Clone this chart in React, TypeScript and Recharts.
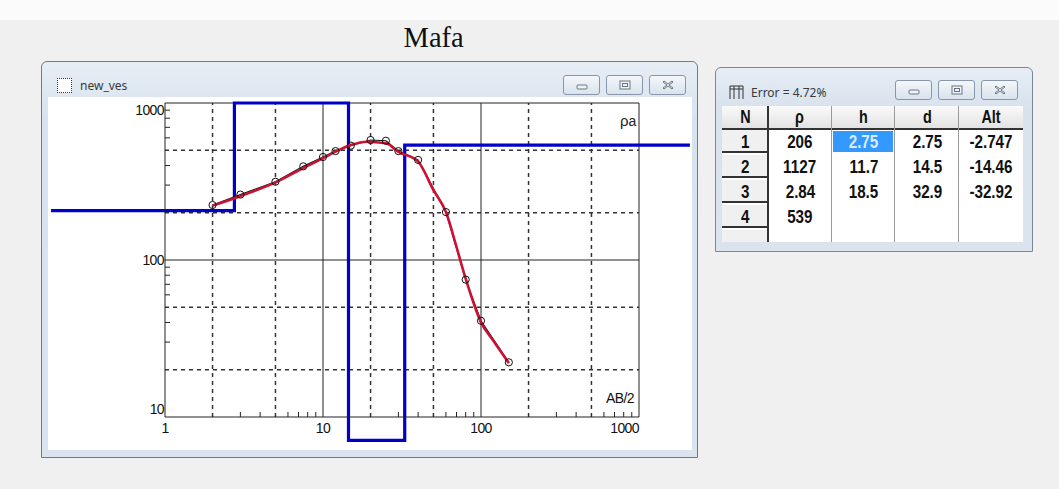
import React from "react";
import { ComposedChart, Line, Scatter, XAxis, YAxis, ReferenceLine } from "recharts";

// field curve (AB/2, apparent resistivity)
const abHalf = [2, 3, 5, 7.5, 10, 12, 15, 20, 25, 30, 40, 60, 80, 100, 150];
const rhoObserved = [224, 261, 315, 395, 453, 494, 535, 581, 575, 494, 434, 202, 75, 41, 22.3];

// fitted curve
const fitAbHalf = [2, 3, 5, 7.5, 10, 12, 15, 19, 25, 30, 40, 50, 60, 70, 80, 100, 120, 150];
const fitRho = [222, 255, 312, 385, 445, 490, 540, 567, 554, 489, 423, 279, 202, 121, 76, 40, 30.5, 22];

// layered model
const layerN = ["1", "2", "3", "4"];
const layerRho = [206, 1127, 2.84, 539];
const layerRhoText = ["206", "1127", "2.84", "539"];
const layerH = ["2.75", "11.7", "18.5"];
const layerD = [2.75, 14.5, 32.9];
const layerDText = ["2.75", "14.5", "32.9"];
const layerAlt = ["-2.747", "-14.46", "-32.92"];

const xTicks = [1, 2, 3, 4, 5, 6, 7, 8, 9, 10, 20, 30, 40, 50, 60, 70, 80, 90, 100, 200, 300, 400, 500, 600, 700, 800, 900, 1000];
const yTicks = [10, 20, 30, 40, 50, 60, 70, 80, 90, 100, 200, 300, 400, 500, 600, 700, 800, 900, 1000];
const majors = [1, 10, 100, 1000];
const dashedX = [2, 5, 20, 50, 200, 500];
const dashedY = [20, 50, 200, 500];

// model is drawn clamped to the window's client area
const VIEW_X = [0.19, 2100];
const VIEW_Y = [7.1, 1000];
const clampY = (v: number) => Math.min(Math.max(v, VIEW_Y[0]), VIEW_Y[1]);

const modelPts: { x: number; y: number }[] = [{ x: VIEW_X[0], y: clampY(layerRho[0]) }];
layerD.forEach((d, i) => {
  modelPts.push({ x: d, y: clampY(layerRho[i]) });
  modelPts.push({ x: d, y: clampY(layerRho[i + 1]) });
});
modelPts.push({ x: VIEW_X[1], y: clampY(layerRho[layerRho.length - 1]) });

const obsPts = abHalf.map((x, i) => ({ x, y: rhoObserved[i] }));
const fitPts = fitAbHalf.map((x, i) => ({ x, y: fitRho[i] }));

const PLOT_LEFT = 117;
const PLOT_BOTTOM = 319;
const tickFont = { fontFamily: "'Liberation Sans', Arial, sans-serif", fontSize: 14, letterSpacing: -0.6, fill: "#111" };

const XTick = (props: any) => {
  const { x, payload } = props;
  const v = payload.value;
  if (majors.includes(v)) {
    return (
      <text x={x} y={PLOT_BOTTOM + 16} textAnchor={v === 1000 ? "end" : "middle"} {...tickFont}>
        {v}
      </text>
    );
  }
  if (dashedX.includes(v)) return <g />;
  return <line x1={x} x2={x} y1={PLOT_BOTTOM} y2={PLOT_BOTTOM - 5} stroke="#222" />;
};

const YTick = (props: any) => {
  const { y, payload } = props;
  const v = payload.value;
  if (majors.includes(v)) {
    const dy = v === 1000 ? 12 : v === 10 ? -3 : 5;
    return (
      <text x={PLOT_LEFT - 1} y={y + dy} textAnchor="end" {...tickFont}>
        {v}
      </text>
    );
  }
  if (dashedY.includes(v)) return <g />;
  return <line x1={PLOT_LEFT} x2={PLOT_LEFT + 5} y1={y} y2={y} stroke="#222" />;
};

const Dot = (props: any) => <circle cx={props.cx} cy={props.cy} r={3.6} fill="none" stroke="#111" strokeWidth={1} />;

const WinButtons = ({ left, top }: { left: number; top: number }) => {
  const btn = (l: number, icon: React.ReactNode) => (
    <div
      style={{
        position: "absolute", left: l, top, width: 37, height: 20, boxSizing: "border-box",
        border: "1px solid #8796aa", borderRadius: 3,
        background: "linear-gradient(#f4f7fa, #d9e2ec)", display: "flex", alignItems: "center", justifyContent: "center",
      }}
    >
      <svg width={14} height={12}>{icon}</svg>
    </div>
  );
  return (
    <>
      {btn(left, <rect x={2} y={6} width={10} height={4} rx={1} fill="#eef2f6" stroke="#6b7684" />)}
      {btn(left + 43, <g><rect x={2} y={2} width={10} height={8} fill="#eef2f6" stroke="#6b7684" /><rect x={4.5} y={4.5} width={5} height={3} fill="none" stroke="#6b7684" /></g>)}
      {btn(left + 86, <path d="M3 2 L7 5 L11 2 L12 3 L8 6 L12 9 L11 10 L7 7 L3 10 L2 9 L6 6 L2 3 Z" fill="#eef2f6" stroke="#6b7684" />)}
    </>
  );
};

const uiFont = "'Noto Sans', 'Open Sans', sans-serif";
const tableFont = "'Liberation Sans Narrow', 'Liberation Sans', Arial, sans-serif";

const colW = [46, 64, 63, 64, 64];
const colX = colW.map((_, i) => colW.slice(0, i).reduce((a, b) => a + b, 0));

const Narrow = ({ children }: { children: React.ReactNode }) => (
  <span style={{ display: "inline-block", transform: "scaleX(0.8)", transformOrigin: "center" }}>{children}</span>
);

const Table = () => {
  const headers = ["N", "ρ", "h", "d", "Alt"];
  const cols = [layerN, layerRhoText, layerH, layerDText, layerAlt];
  const cell = (txt: string, col: number, row: number) => {
    const selected = col === 2 && row === 0;
    return (
      <div
        key={`${col}-${row}`}
        style={{
          position: "absolute", left: colX[col] + (selected ? 1 : 0), top: 23 + row * 25 + (selected ? 2 : 0),
          width: colW[col] - (selected ? 3 : 0), height: selected ? 21 : 25,
          lineHeight: selected ? "21px" : "25px", textAlign: "center",
          background: selected ? "#3399ff" : "transparent", color: selected ? "#d8ecff" : "#111",
          fontFamily: tableFont, fontWeight: 700, fontSize: 19,
        }}
      >
        <Narrow>{txt}</Narrow>
      </div>
    );
  };
  return (
    <div style={{ position: "absolute", left: 722, top: 106, width: 301, height: 136, background: "#fff", overflow: "hidden" }}>
      {/* header */}
      <div style={{ position: "absolute", left: 0, top: 0, width: 301, height: 22, background: "linear-gradient(#fafafa, #e3e3e3)", borderBottom: "2px solid #333" }} />
      {headers.map((h, i) => (
        <div
          key={h}
          style={{
            position: "absolute", left: colX[i], top: 0, width: colW[i], height: 22, lineHeight: "22px", textAlign: "center",
            fontFamily: tableFont, fontWeight: 700, fontSize: 18, color: "#111",
          }}
        >
          <Narrow>{h}</Narrow>
        </div>
      ))}
      {/* N column buttons */}
      {[0, 1, 2, 3, 4].map((r) => (
        <div
          key={r}
          style={{
            position: "absolute", left: 0, top: 24 + r * 25, width: 45, height: 23,
            background: "#f0f0f0", borderBottom: "2px solid #333", boxSizing: "border-box",
          }}
        />
      ))}
      {/* column separators */}
      {colX.slice(1).map((x, i) => (
        <div key={i} style={{ position: "absolute", left: x - 1, top: 0, width: i === 0 ? 2 : 1, height: 136, background: i === 0 ? "#333" : "#9a9a9a" }} />
      ))}
      {cols.map((c, ci) => c.map((t, ri) => cell(t, ci, ri)))}
    </div>
  );
};

export default function App() {
  return (
    <div style={{ position: "absolute", left: 0, top: 0, width: 1059, height: 489, background: "#f0f0f0", overflow: "hidden" }}>
      <style>{`.recharts-wrapper g, .recharts-wrapper path { clip-path: none !important; }`}</style>
      <div style={{ position: "absolute", left: 0, top: 0, width: 1059, height: 20, background: "#fbfbfb" }} />
      <div style={{ position: "absolute", left: 0, top: 20, width: 868, textAlign: "center", fontFamily: "'Liberation Serif', 'Times New Roman', serif", fontSize: 30, color: "#111" }}>
        <span style={{ display: "inline-block", transform: "scaleX(0.95)" }}>Mafa</span>
      </div>

      {/* chart window */}
      <div style={{ position: "absolute", left: 41, top: 61, width: 657, height: 397, boxSizing: "border-box", border: "1px solid #6f7b8a", borderRadius: "6px 6px 0 0", background: "linear-gradient(#e6edf5, #d8e2ed 60px, #dbe4ee)" }} />
      <div style={{ position: "absolute", left: 57, top: 78, width: 13, height: 13, border: "1px dotted #333", background: "#fff" }} />
      <div style={{ position: "absolute", left: 80, top: 77, fontFamily: uiFont, fontSize: 12, color: "#3a3a3a" }}>new_ves</div>
      <WinButtons left={563} top={75} />
      <div style={{ position: "absolute", left: 48, top: 97, width: 644, height: 353, background: "#fff" }} />
      <div style={{ position: "absolute", left: 48, top: 98 }}>
        <ComposedChart width={644} height={352} margin={{ top: 5, right: 53, bottom: 0, left: 0 }}>
          <XAxis
            type="number" dataKey="x" scale="log" domain={[1, 1000]} allowDataOverflow ticks={xTicks} interval={0}
            height={33} tickLine={false} axisLine={{ stroke: "#222" }} tick={XTick}
          />
          <YAxis
            type="number" dataKey="y" scale="log" domain={[10, 1000]} allowDataOverflow ticks={yTicks} interval={0}
            width={117} tickLine={false} axisLine={{ stroke: "#222" }} tick={YTick}
          />
          {dashedX.map((v) => (
            <ReferenceLine key={`dx${v}`} x={v} stroke="#333" strokeWidth={1.5} strokeDasharray="4 4" />
          ))}
          {dashedY.map((v) => (
            <ReferenceLine key={`dy${v}`} y={v} stroke="#333" strokeWidth={1.5} strokeDasharray="4 4" />
          ))}
          <ReferenceLine x={10} stroke="#222" />
          <ReferenceLine x={100} stroke="#222" />
          <ReferenceLine x={1000} stroke="#222" />
          <ReferenceLine y={100} stroke="#222" />
          <ReferenceLine y={1000} stroke="#222" />
          <Line className="model-line" data={modelPts} dataKey="y" type="linear" stroke="#0000c8" strokeWidth={3.2} dot={false} isAnimationActive={false} />
          <Line data={obsPts} dataKey="y" type="linear" stroke="#111" strokeWidth={1.2} dot={false} isAnimationActive={false} />
          <Line data={fitPts} dataKey="y" type="monotone" stroke="#cc1133" strokeWidth={2.6} dot={false} isAnimationActive={false} />
          <Scatter data={obsPts} dataKey="y" shape={Dot} isAnimationActive={false} />
        </ComposedChart>
      </div>
      <div style={{ position: "absolute", left: 620, top: 112, fontFamily: "'Liberation Sans', Arial, sans-serif", fontSize: 15, color: "#222" }}>
        ρ<span style={{ fontSize: 14 }}>a</span>
      </div>
      <div style={{ position: "absolute", left: 606, top: 390, fontFamily: "'Liberation Sans', Arial, sans-serif", fontSize: 14, letterSpacing: -0.6, color: "#111" }}>
        AB/2
      </div>

      {/* table window */}
      <div style={{ position: "absolute", left: 715, top: 67, width: 318, height: 185, boxSizing: "border-box", border: "1px solid #7c8796", borderRadius: "6px 6px 0 0", background: "linear-gradient(#e6edf5, #d8e2ed 40px, #dbe4ee)" }} />
      <svg style={{ position: "absolute", left: 729, top: 85 }} width={15} height={15}>
        <path d="M1 1 H14 M1 1 V14 M5 1 V14 M10 1 V14 M14 1 V14 M1 4 H14" stroke="#333" strokeWidth={1} fill="none" />
      </svg>
      <div style={{ position: "absolute", left: 751, top: 84, fontFamily: uiFont, fontSize: 12, color: "#3a3a3a" }}>Error = 4.72%</div>
      <WinButtons left={895} top={80} />
      <Table />
    </div>
  );
}
